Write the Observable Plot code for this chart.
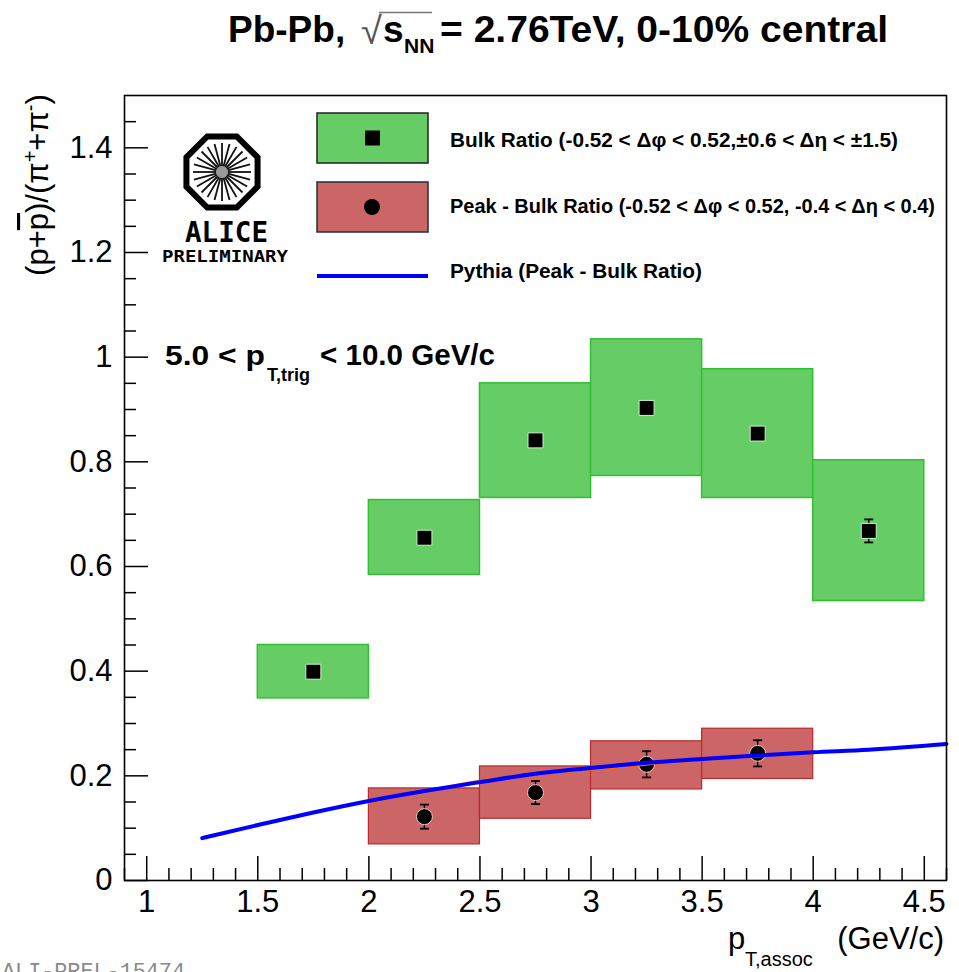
<!DOCTYPE html>
<html>
<head>
<meta charset="utf-8">
<script src="https://cdn.jsdelivr.net/npm/d3@7"></script>
<script src="https://cdn.jsdelivr.net/npm/@observablehq/plot@0.6"></script>
<style>
  html, body { margin: 0; padding: 0; background: #fff; overflow: hidden; }
  #chart { width: 959px; height: 972px; position: relative; }
</style>
</head>
<body>
<div id="chart"></div>
<script>
// ---------- data ----------
const binLo = [1.5, 2.0, 2.5, 3.0, 3.5, 4.0];
const binHi = [2.0, 2.5, 3.0, 3.5, 4.0, 4.5];
const bulkX = [1.75, 2.25, 2.75, 3.25, 3.75, 4.25];
const bulkY = [0.399, 0.655, 0.841, 0.903, 0.854, 0.668];
const bulkStat = [0.008, 0.008, 0.008, 0.008, 0.008, 0.022];
const bulkSysLo = [0.348, 0.584, 0.731, 0.773, 0.731, 0.534];
const bulkSysHi = [0.450, 0.727, 0.950, 1.034, 0.977, 0.803];

const peakLo = [2.0, 2.5, 3.0, 3.5];
const peakHi = [2.5, 3.0, 3.5, 4.0];
const peakX = [2.25, 2.75, 3.25, 3.75];
const peakY = [0.122, 0.168, 0.222, 0.243];
const peakStat = [0.023, 0.022, 0.025, 0.025];
const peakSysLo = [0.069, 0.118, 0.174, 0.194];
const peakSysHi = [0.176, 0.218, 0.266, 0.290];

const pythiaX = [1.25, 1.5, 1.75, 2.0, 2.25, 2.5, 2.75, 3.0, 3.25, 3.5, 3.75, 4.0, 4.25, 4.6];
const pythiaY = [0.081, 0.106, 0.130, 0.152, 0.171, 0.188, 0.204, 0.215, 0.225, 0.232, 0.239, 0.245, 0.250, 0.261];

const fitX = [2.0, 2.5, 3.0, 3.5, 4.0];
const fitY = [0.147, 0.191, 0.211, 0.230, 0.242];

const xMajor = [1, 1.5, 2, 2.5, 3, 3.5, 4, 4.5];
const yMajor = [0, 0.2, 0.4, 0.6, 0.8, 1, 1.2, 1.4];

// ---------- tables ----------
const bulk = bulkX.map((x, i) => ({x, y: bulkY[i], e: bulkStat[i], lo: bulkSysLo[i], hi: bulkSysHi[i], x1: binLo[i], x2: binHi[i]}));
const peak = peakX.map((x, i) => ({x, y: peakY[i], e: peakStat[i], lo: peakSysLo[i], hi: peakSysHi[i], x1: peakLo[i], x2: peakHi[i]}));
const pythia = pythiaX.map((x, i) => ({x, y: pythiaY[i]}));
const fit = fitX.map((x, i) => ({x, y: fitY[i]}));

const xMinor = d3.range(9, 47).filter(i => i % 5 !== 0).map(i => i / 10);
const yMinor = d3.range(1, 30).filter(i => i % 4 !== 0).map(i => i / 20);

// ---------- custom symbols ----------
const squareSym = {draw(ctx) { ctx.rect(-7.5, -7.5, 15, 15); }};
const circleSym = {draw(ctx) { ctx.moveTo(8, 0); ctx.arc(0, 0, 8, 0, 2 * Math.PI); }};
const capSym = {draw(ctx) { ctx.moveTo(-4.5, 0); ctx.lineTo(4.5, 0); }};

const W = 959, H = 972, mT = 95, mB = 92, mL = 124, mR = 13;
const fw = W - mL - mR, fh = H - mT - mB;

const GREEN = "#66cc66", GREEN_EDGE = "#2fc02f";
const RED = "#cc6666", RED_EDGE = "#bb2a2a";
const FONT = "'Liberation Sans', Arial, Helvetica, sans-serif";

const chart = Plot.plot({
  width: W, height: H,
  marginTop: mT, marginBottom: mB, marginLeft: mL, marginRight: mR,
  style: {fontFamily: FONT, background: "white", color: "black"},
  x: {domain: [0.9, 4.6]},
  y: {domain: [0, 1.5]},
  marks: [
    // systematic boxes
    Plot.rect(bulk, {x1: "x1", x2: "x2", y1: "lo", y2: "hi", fill: GREEN, stroke: GREEN_EDGE, strokeWidth: 1.5}),
    Plot.rect(peak, {x1: "x1", x2: "x2", y1: "lo", y2: "hi", fill: RED, stroke: RED_EDGE, strokeWidth: 1.2}),
    // stat errors
    Plot.ruleX(bulk, {x: "x", y1: d => d.y - d.e, y2: d => d.y + d.e, stroke: "black", strokeWidth: 1.5}),
    Plot.dot(bulk, {x: "x", y: d => d.y - d.e, symbol: capSym, stroke: "black", strokeWidth: 1.8, fill: "none"}),
    Plot.dot(bulk, {x: "x", y: d => d.y + d.e, symbol: capSym, stroke: "black", strokeWidth: 1.8, fill: "none"}),
    Plot.ruleX(peak, {x: "x", y1: d => d.y - d.e, y2: d => d.y + d.e, stroke: "black", strokeWidth: 1.5}),
    Plot.dot(peak, {x: "x", y: d => d.y - d.e, symbol: capSym, stroke: "black", strokeWidth: 1.8, fill: "none"}),
    Plot.dot(peak, {x: "x", y: d => d.y + d.e, symbol: capSym, stroke: "black", strokeWidth: 1.8, fill: "none"}),
    // markers
    Plot.dot(bulk, {x: "x", y: "y", symbol: squareSym, fill: "black", stroke: "#c8f0c8", strokeWidth: 1}),
    Plot.dot(peak, {x: "x", y: "y", symbol: circleSym, fill: "black", stroke: "#f3c8c8", strokeWidth: 1}),
    // curves
    Plot.line(fit, {x: "x", y: "y", stroke: "#ff6a00", strokeWidth: 1.6, curve: "monotone-x"}),
    Plot.line(pythia, {x: "x", y: "y", stroke: "#0000ff", strokeWidth: 4, curve: "monotone-x"}),
    // inward ticks
    Plot.ruleY(yMajor, {stroke: "black", strokeWidth: 1.5, insetRight: fw - 24}),
    Plot.ruleY(yMinor, {stroke: "black", strokeWidth: 1.5, insetRight: fw - 12}),
    Plot.ruleX(xMajor, {stroke: "black", strokeWidth: 1.5, insetTop: fh - 24}),
    Plot.ruleX(xMinor, {stroke: "black", strokeWidth: 1.5, insetTop: fh - 12}),
    // axes labels
    Plot.axisX({ticks: xMajor, tickSize: 0, tickPadding: 9, fontSize: 31, label: null, tickFormat: d => String(d)}),
    Plot.axisY({ticks: yMajor, tickSize: 0, tickPadding: 12, fontSize: 31, label: null, tickFormat: d => String(d)}),
    Plot.frame({stroke: "black", strokeWidth: 1.6})
  ]
});
document.getElementById("chart").appendChild(chart);

// ---------- decorations ----------
const svg = d3.select(chart);
const g = svg.append("g").attr("font-family", FONT).attr("fill", "black").attr("text-anchor", "start");

// Title
g.append("text").attr("x", 228).attr("y", 42).attr("font-size", 37).attr("font-weight", "bold").text("Pb-Pb,");
g.append("text").attr("x", 361).attr("y", 44).attr("font-size", 38).attr("font-weight", "normal").attr("fill", "#555").text("\u221A");
g.append("line").attr("x1", 379).attr("x2", 432).attr("y1", 12.5).attr("y2", 12.5).attr("stroke", "#777").attr("stroke-width", 1.3);
g.append("text").attr("x", 383).attr("y", 42).attr("font-size", 37).attr("font-weight", "bold").text("s");
g.append("text").attr("x", 404).attr("y", 53).attr("font-size", 21).attr("font-weight", "bold").text("NN");
g.append("text").attr("x", 440).attr("y", 42).attr("font-size", 37).attr("font-weight", "bold")
  .attr("textLength", 448).attr("lengthAdjust", "spacingAndGlyphs").text("= 2.76TeV, 0-10% central");

// Y axis label (rotated)
const yl = g.append("text").attr("transform", "translate(48,185) rotate(-90)").attr("text-anchor", "middle").attr("font-size", 31);
yl.append("tspan").text("(p+");
yl.append("tspan").attr("style", "text-decoration: overline").text("p");
yl.append("tspan").text(")/(\u03C0");
yl.append("tspan").attr("dy", -11).attr("font-size", 20).text("+");
yl.append("tspan").attr("dy", 11).text("+\u03C0");
yl.append("tspan").attr("dy", -11).attr("font-size", 20).text("-");
yl.append("tspan").attr("dy", 11).text(")");

// X axis label
g.append("text").attr("x", 728).attr("y", 949).attr("font-size", 31).text("p");
g.append("text").attr("x", 745).attr("y", 966).attr("font-size", 20).text("T,assoc");
g.append("text").attr("x", 944).attr("y", 949).attr("font-size", 31).attr("text-anchor", "end").text("(GeV/c)");

// Trigger range text
g.append("text").attr("x", 165).attr("y", 365).attr("font-size", 28).attr("font-weight", "bold")
  .attr("textLength", 100).attr("lengthAdjust", "spacingAndGlyphs").text("5.0 < p");
g.append("text").attr("x", 267).attr("y", 381).attr("font-size", 18).attr("font-weight", "bold")
  .attr("textLength", 43).attr("lengthAdjust", "spacingAndGlyphs").text("T,trig");
g.append("text").attr("x", 320).attr("y", 365).attr("font-size", 29).attr("font-weight", "bold")
  .attr("textLength", 175).attr("lengthAdjust", "spacingAndGlyphs").text("< 10.0 GeV/c");

// Legend
g.append("rect").attr("x", 317).attr("y", 113).attr("width", 111).attr("height", 50).attr("fill", GREEN).attr("stroke", "#222").attr("stroke-width", 1.5);
g.append("rect").attr("x", 365).attr("y", 130.5).attr("width", 15).attr("height", 15).attr("fill", "black");
g.append("rect").attr("x", 317).attr("y", 182).attr("width", 111).attr("height", 50).attr("fill", RED).attr("stroke", "#1f3030").attr("stroke-width", 1.5);
g.append("circle").attr("cx", 372).attr("cy", 207).attr("r", 8).attr("fill", "black");
g.append("line").attr("x1", 317).attr("x2", 428).attr("y1", 276).attr("y2", 276).attr("stroke", "#0000ff").attr("stroke-width", 4);
const legTxt = [
  ["Bulk Ratio (-0.52 < \u0394\u03C6 < 0.52,\u00B10.6 < \u0394\u03B7 < \u00B11.5)", 147, 448],
  ["Peak - Bulk Ratio (-0.52 < \u0394\u03C6 < 0.52, -0.4 < \u0394\u03B7 < 0.4)", 213, 485],
  ["Pythia (Peak - Bulk Ratio)", 278, 252]
];
legTxt.forEach(([t, y, len]) => {
  g.append("text").attr("x", 450).attr("y", y).attr("font-size", 20).attr("font-weight", "bold")
    .attr("textLength", len).attr("lengthAdjust", "spacingAndGlyphs").text(t);
});

// ALICE logo
const logo = g.append("g").attr("transform", "translate(222,172)");
const R = 38.5;
const oct = d3.range(8).map(k => {
  const a = Math.PI / 8 + k * Math.PI / 4;
  return [R * Math.cos(a), R * Math.sin(a)];
});
logo.append("path").attr("d", "M" + oct.map(p => p.join(",")).join("L") + "Z")
  .attr("fill", "white").attr("stroke", "black").attr("stroke-width", 6).attr("stroke-linejoin", "miter");
logo.append("circle").attr("r", 7).attr("fill", "#9a9a9a");
d3.range(24).forEach(k => {
  const a = k * Math.PI / 12;
  logo.append("line").attr("x1", 6 * Math.cos(a)).attr("y1", 6 * Math.sin(a))
    .attr("x2", 29 * Math.cos(a)).attr("y2", 29 * Math.sin(a))
    .attr("stroke", "#111").attr("stroke-width", 1.8);
});
g.append("text").attr("x", 185).attr("y", 242).attr("font-family", "'DejaVu Sans Mono', monospace").attr("font-weight", "bold")
  .attr("font-size", 28).attr("textLength", 83).attr("lengthAdjust", "spacingAndGlyphs").text("ALICE");
g.append("text").attr("x", 162).attr("y", 262).attr("font-family", "'DejaVu Sans Mono', monospace").attr("font-weight", "bold")
  .attr("font-size", 15).attr("textLength", 126).attr("lengthAdjust", "spacingAndGlyphs").text("PRELIMINARY");

// Caption (partly cut at the bottom edge, as in the reference)
g.append("text").attr("x", 2).attr("y", 978).attr("font-family", "'Liberation Mono', monospace")
  .attr("font-size", 22).attr("fill", "#8a8a8a").attr("textLength", 183).attr("lengthAdjust", "spacingAndGlyphs").text("ALI-PREL-15474");
</script>
</body>
</html>
